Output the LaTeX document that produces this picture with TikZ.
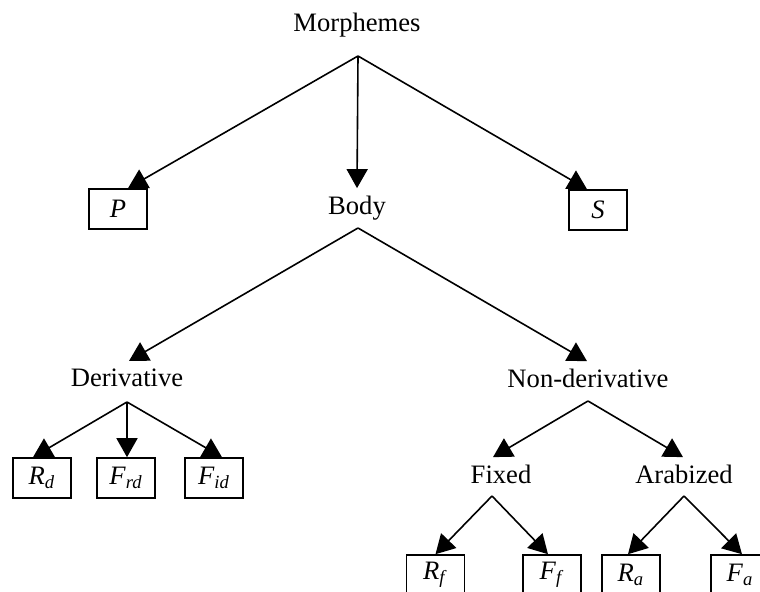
\documentclass[tikz,border=0pt]{standalone}
\usepackage{fontspec}
\setmainfont{Liberation Serif}
\usetikzlibrary{arrows.meta}

\newcommand{\lettre}[2]{\textit{#1}\textsubscript{\textit{#2}}}

\begin{document}
\begin{tikzpicture}[
    x=0.5pt, y=-0.5pt,
    font=\fontsize{13.3}{16}\selectfont,
    every node/.style={inner sep=0pt},
    mot/.style={anchor=base},     % Texte simple, placé sur sa ligne de base
    boite/.style={draw, line width=0.8pt, minimum width=29pt, minimum height=20pt},
    fleche/.style={line width=0.8pt, -{Triangle[length=9.5pt, width=10.5pt]}}
]
\useasboundingbox (0,0) rectangle (760,592);
\clip (0,0) rectangle (760,592);
% Racine
\node[mot] (morph) at (357,32) {Morphemes};
\coordinate (sMorph) at (358,56);
% Niveau 1
\node[boite] (P) at (118,209) {\textit{P}};
\node[mot] (body) at (357,215) {Body};
\node[boite] (S) at (598,210) {\textit{S}};
\coordinate (sBody) at (358,228);
\draw[fleche] (sMorph) -- ([xshift=5pt]P.north);
\draw[fleche] (sMorph) -- ([yshift=4pt]body.north);
\draw[fleche] (sMorph) -- ([xshift=-5.5pt]S.north);
% Niveau 2
\node[mot] (deriv) at (127,387) {Derivative};
\node[mot] (nonderiv) at (588,388) {Non-derivative};
\coordinate (sDeriv) at (127,402);
\coordinate (sNonderiv) at (588,401);
\draw[fleche] (sBody) -- ([xshift=1pt, yshift=4pt]deriv.north);
\draw[fleche] (sBody) -- ([xshift=-0.5pt, yshift=4pt]nonderiv.north);
% Feuilles de Derivative
\node[boite] (Rd) at (42,478) {\lettre{R}{d}};
\node[boite] (Frd) at (126,478) {\lettre{F}{rd}};
\node[boite] (Fid) at (214,478) {\lettre{F}{id}};
\draw[fleche] (sDeriv) -- ([xshift=-4.5pt]Rd.north);
\draw[fleche] (sDeriv) -- ([xshift=0.5pt]Frd.north);
\draw[fleche] (sDeriv) -- ([xshift=4pt]Fid.north);
% Niveau 3
\node[mot] (fixed) at (501,484) {Fixed};
\node[mot] (arab) at (684,484) {Arabized};
\coordinate (sFixed) at (492,496);
\coordinate (sArab) at (684,496);
\draw[fleche] (sNonderiv) -- ([xshift=-4pt, yshift=4pt]fixed.north);
\draw[fleche] (sNonderiv) -- ([xshift=-0.5pt, yshift=4pt]arab.north);
% Feuilles de Fixed et Arabized
\node[boite] (Rf) at (435.5,575) {\lettre{R}{f}};
\node[boite] (Ff) at (552,575) {\lettre{F}{f}};
\node[boite] (Ra) at (631,575) {\lettre{R}{a}};
\node[boite] (Fa) at (740,575) {\lettre{F}{a}};
\draw[fleche] (sFixed) -- (Rf.north);
\draw[fleche] (sFixed) -- ([xshift=-2pt]Ff.north);
\draw[fleche] (sArab) -- ([xshift=-1.5pt]Ra.north);
\draw[fleche] (sArab) -- ([xshift=1pt]Fa.north);
\end{tikzpicture}
\end{document}
